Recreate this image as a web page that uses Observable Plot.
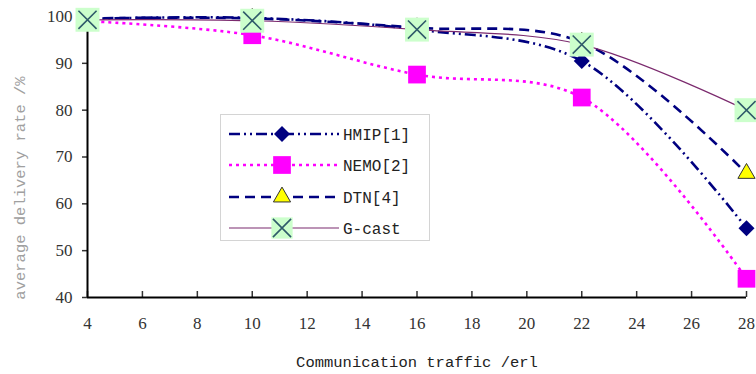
<!DOCTYPE html>
<html><head><meta charset="utf-8">
<script src="https://cdn.jsdelivr.net/npm/d3@7"></script>
<script src="https://cdn.jsdelivr.net/npm/@observablehq/plot@0.6"></script>
<style>
body{margin:0;background:#fff;}
#wrap{position:relative;width:756px;height:374px;overflow:hidden;}
#legend{position:absolute;left:220px;top:114px;width:210px;height:127px;border:1px solid #d4d4d4;background:#fff;box-sizing:border-box;}
</style></head><body><div id="wrap"><div id="legend"></div></div>
<script>
// ---- data ----
const traffic = [4, 10, 16, 22, 28];
const hmip  = [99.5, 99.7, 97.2, 90.5, 54.8];
const nemo  = [99.0, 96.0, 87.6, 82.7, 44.0];
const dtn   = [99.6, 99.6, 97.6, 94.5, 66.5];
const gcast = [99.3, 99.1, 97.2, 94.0, 80.0];
const seriesNames = ["HMIP[1]", "NEMO[2]", "DTN[4]", "G-cast"];
const xTicks = [4, 6, 8, 10, 12, 14, 16, 18, 20, 22, 24, 26, 28];
const yTicks = [40, 50, 60, 70, 80, 90, 100];
const xTitle = "Communication traffic /erl";
const yTitle = "average delivery rate /%";

// ---- styles ----
const styles = {
  "HMIP[1]": {stroke: "#000080", dash: "11,4,2,4,2,4", width: 2.6},
  "NEMO[2]": {stroke: "#ff00ff", dash: "3,4", width: 2.6},
  "DTN[4]":  {stroke: "#000080", dash: "10,6", width: 2.6},
  "G-cast":  {stroke: "#7b2a6e", dash: null, width: 1.2}
};
const values = [hmip, nemo, dtn, gcast];
const rows = seriesNames.map((s, i) => traffic.map((x, j) => ({x, y: values[i][j], s})));

const lineMarks = rows.map((r, i) => {
  const st = styles[seriesNames[i]];
  return Plot.line(r, {x: "x", y: "y", stroke: st.stroke, strokeWidth: st.width,
    strokeDasharray: st.dash, curve: "catmull-rom", strokeLinecap: "butt"});
});

const chart = Plot.plot({
  width: 756, height: 374,
  marginLeft: 87, marginRight: 10, marginTop: 16, marginBottom: 77,
  x: {domain: [4, 28]},
  y: {domain: [40, 100]},
  style: {fontFamily: "Liberation Serif", fontSize: "17px", color: "#333", background: "transparent", overflow: "visible"},
  marks: [
    Plot.axisY({ticks: yTicks, tickSize: 5, tickPadding: 10, label: null, strokeWidth: 1.5, tickFormat: d => d}),
    Plot.axisX({ticks: xTicks, tickSize: -6, tickPadding: 25, label: null, strokeWidth: 1.5, tickFormat: d => d}),
    Plot.ruleX([4], {stroke: "#000", strokeWidth: 2}),
    Plot.ruleY([40], {stroke: "#000", strokeWidth: 2}),
    ...lineMarks,
    Plot.dot(rows[0], {x: "x", y: "y", symbol: "diamond2", r: 7.2, fill: "#000080", stroke: "none"}),
    Plot.dot(rows[1], {x: "x", y: "y", symbol: "square", r: 10, fill: "#ff00ff", stroke: "none"}),
    Plot.dot(rows[2], {x: "x", y: "y", symbol: "triangle2", r: 8.2, fill: "#ffff00", stroke: "#333", strokeWidth: 1}),
    Plot.dot(rows[3], {x: "x", y: "y", symbol: "square", r: 13.5, fill: "#ccffcc", stroke: "none"}),
    Plot.dot(rows[3], {x: "x", y: "y", symbol: "times", r: 8.3, fill: "none", stroke: "#2f5a6a", strokeWidth: 1.6}),
    Plot.text([xTitle], {frameAnchor: "bottom", dy: 65, fontFamily: "Liberation Mono", fontSize: 15.5, fill: "#222", lineAnchor: "middle"}),
    Plot.text([yTitle], {frameAnchor: "left", dx: -67, dy: 31, rotate: -90, textAnchor: "middle", fontFamily: "Liberation Mono", fontSize: 15.5, fill: "#a0a0a0", lineAnchor: "middle"})
  ]
});
document.getElementById("wrap").prepend(chart);

// ---- legend ----
const lg = d3.select("#legend").append("svg").attr("width", 208).attr("height", 125)
  .style("position", "absolute").style("left", "0px").style("top", "0px");
const rowY = [19, 50, 82, 113];
const symbolFor = {
  "HMIP[1]": [d3.symbolDiamond2, 7.2, "#000080", "none"],
  "NEMO[2]": [d3.symbolSquare, 10, "#ff00ff", "none"],
  "DTN[4]": [d3.symbolTriangle2, 8.2, "#ffff00", "#333"]
};
seriesNames.forEach((s, i) => {
  const st = styles[s];
  const g = lg.append("g").attr("transform", `translate(0,${rowY[i]})`);
  g.append("line").attr("x1", 8).attr("x2", 118).attr("y1", 0).attr("y2", 0)
    .attr("stroke", st.stroke).attr("stroke-width", st.width)
    .attr("stroke-dasharray", st.dash);
  if (symbolFor[s]) {
    const [sym, r, fill, stroke] = symbolFor[s];
    g.append("path").attr("transform", "translate(61,0)")
      .attr("d", d3.symbol(sym, r * r * Math.PI)())
      .attr("fill", fill).attr("stroke", stroke);
  } else {
    g.append("path").attr("transform", "translate(61,0)")
      .attr("d", d3.symbol(d3.symbolSquare, 12 * 12 * Math.PI)()).attr("fill", "#ccffcc");
    g.append("path").attr("transform", "translate(61,0)")
      .attr("d", d3.symbol(d3.symbolTimes, 8.3 * 8.3 * Math.PI)())
      .attr("fill", "none").attr("stroke", "#2f5a6a").attr("stroke-width", 1.6);
  }
  g.append("text").attr("x", 122).attr("y", 0).attr("dy", "0.35em")
    .attr("font-family", "Liberation Mono").attr("font-size", 16).attr("fill", "#222").text(s);
});
</script>
</body></html>
